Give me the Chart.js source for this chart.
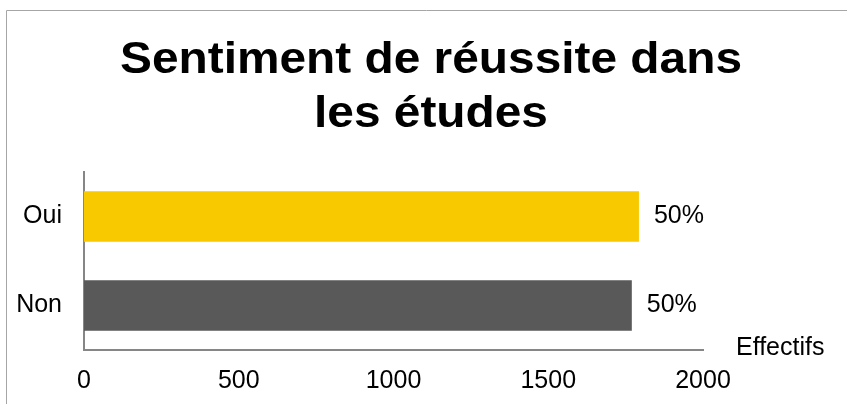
<!DOCTYPE html>
<html>
<head>
<meta charset="utf-8">
<script src="https://cdn.jsdelivr.net/npm/chart.js@4.4.0/dist/chart.umd.min.js"></script>
<style>
  html, body { margin: 0; padding: 0; background: #fff; }
  #wrap { width: 847px; height: 404px; position: relative; }
</style>
</head>
<body>
<div id="wrap"><canvas id="myChart" width="847" height="404"></canvas></div>
<script>
// data
const categories = ['Oui', 'Non'];
const effectifs = [1793, 1770];
const pctLabels = ['50%', '50%'];
const barColors = ['#F9C900', '#595959'];
const xTicks = [0, 500, 1000, 1500, 2000];
const titleLines = ['Sentiment de réussite dans', 'les études'];

const fontFamily = '"Liberation Sans", Arial, sans-serif';
const ctx = document.getElementById('myChart');

// frame, title, value labels and axis name
const extras = {
  id: 'extras',
  beforeDraw(chart) {
    const c = chart.ctx;
    c.save();
    c.strokeStyle = '#A6A6A6';
    c.lineWidth = 1;
    c.beginPath();
    c.moveTo(6.5, 404);
    c.lineTo(6.5, 10.5);
    c.lineTo(847, 10.5);
    c.stroke();

    // title, a bit wider than the font gives, as in the source
    c.font = 'bold 44px ' + fontFamily;
    c.fillStyle = '#000';
    c.textAlign = 'center';
    c.textBaseline = 'alphabetic';
    const sx = 622 / c.measureText(titleLines[0]).width;
    c.translate(431, 0);
    c.scale(sx, 1);
    c.fillText(titleLines[0], 0, 73);
    c.fillText(titleLines[1], 0, 127);
    c.restore();
  },
  afterDatasetsDraw(chart) {
    const c = chart.ctx;
    const meta = chart.getDatasetMeta(0);
    c.save();
    c.font = '25px ' + fontFamily;
    c.fillStyle = '#000';
    c.textBaseline = 'middle';
    c.textAlign = 'left';
    meta.data.forEach((bar, i) => {
      c.fillText(pctLabels[i], bar.x + 15, bar.y);
    });
    c.fillText('Effectifs', 736, 348);
    c.restore();
  }
};

new Chart(ctx, {
  type: 'bar',
  data: {
    labels: categories,
    datasets: [{
      data: effectifs,
      backgroundColor: barColors,
      borderWidth: 0,
      categoryPercentage: 1,
      barPercentage: 0.57
    }]
  },
  options: {
    indexAxis: 'y',
    responsive: false,
    animation: false,
    layout: {
      padding: { left: 16, right: 144, top: 172, bottom: 0 }
    },
    plugins: {
      legend: { display: false },
      tooltip: { enabled: false },
      title: { display: false }
    },
    scales: {
      x: {
        min: 0,
        max: 2000,
        afterBuildTicks(scale) {
          scale.ticks = xTicks.map(v => ({ value: v }));
        },
        afterFit(scale) { scale.height = 54; },
        grid: { display: false, drawTicks: false },
        border: { display: true, color: '#868686', width: 2 },
        ticks: {
          color: '#000',
          padding: 16,
          maxRotation: 0,
          callback: v => String(v),
          font: { family: fontFamily, size: 25 }
        }
      },
      y: {
        afterFit(scale) { scale.width = 68; },
        grid: { display: false, drawTicks: false },
        border: { display: true, color: '#868686', width: 2 },
        ticks: {
          color: '#000',
          padding: 22,
          font: { family: fontFamily, size: 25 }
        }
      }
    }
  },
  plugins: [extras]
});
</script>
</body>
</html>
